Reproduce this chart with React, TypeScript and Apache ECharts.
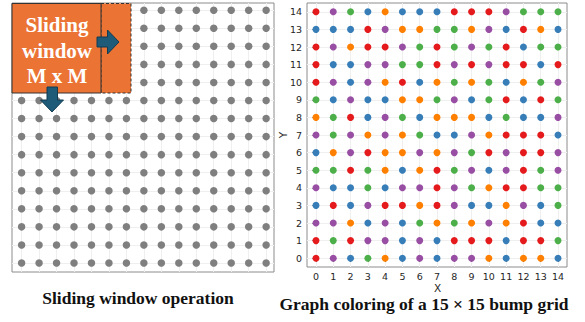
import React, { useEffect, useRef } from "react";
import * as echarts from "echarts";

// tick positions (both panels use a 15 x 15 lattice)
const tickValues = [0, 1, 2, 3, 4, 5, 6, 7, 8, 9, 10, 11, 12, 13, 14];

// colour code of each bump, rows listed from y = 14 (top) down to y = 0
// R red, B blue, G green, P purple, O orange
const colorRowsTopDown = [
  "RPGBOBBBRRRPGGG", // 14
  "BBBRPOOGGOPBROB", // 13
  "RPORRPGRGPGRBGG", // 12
  "RBBPPGGRPRPRRBR", // 11
  "RPBPORBOGOGBOGP", // 10
  "GBPBBOOGPBGRBRG", // 9
  "OGRBPGBOOOBGBBP", // 8
  "PGPOPOGBBPORRRB", // 7
  "BOPROOPOPGRPRRP", // 6
  "GGRGOBORGPBPRGP", // 5
  "PBBGBPPRPGORRGG", // 4
  "BRBPRRORPBBOPBG", // 3
  "PPOBPBGOGOPORBB", // 2
  "RGRPPBPBRRRBRRG", // 1
  "RPBGOBPBPPOBOOB", // 0
];

const colorCodes = ["R", "B", "G", "P", "O"];
const colorValues = ["#e41a1c", "#377eb8", "#4daf4a", "#984ea3", "#ff7f00"];

const leftCaption = "Sliding window operation";
const rightCaption = "Graph coloring of a 15 \u00d7 15 bump grid";
const windowLines = ["Sliding", "window", "M x M"];

export default function App() {
  const ref = useRef<HTMLDivElement>(null);

  useEffect(() => {
    document.body.style.margin = "0";
    if (!ref.current) return;
    const chart = echarts.init(ref.current, null, { renderer: "svg" });

    const grayPoints: number[][] = [];
    for (const x of tickValues) for (const y of tickValues) grayPoints.push([x, y]);

    const colorSeries = colorCodes.map((code, ci) => {
      const data: number[][] = [];
      colorRowsTopDown.forEach((row, ri) => {
        const y = tickValues[tickValues.length - 1 - ri];
        row.split("").forEach((c, xi) => {
          if (c === code) data.push([tickValues[xi], y]);
        });
      });
      return {
        type: "scatter",
        xAxisIndex: 1,
        yAxisIndex: 1,
        symbolSize: 7,
        silent: true,
        itemStyle: { color: colorValues[ci], opacity: 1 },
        data,
      };
    });

    const splitLine = { show: true, lineStyle: { color: "#efefef", width: 1 } };
    const axisFont = { fontFamily: "DejaVu Sans", fontSize: 9.5, color: "#262626" };

    const orange = "#eb7333";
    const arrowFill = "#1d5b79";
    const arrowStroke = "#123c52";

    chart.setOption({
      animation: false,
      backgroundColor: "#ffffff",
      grid: [
        { left: 12, top: 3, width: 262, height: 269, show: true, borderColor: "#8c8c8c", borderWidth: 1, backgroundColor: "transparent" },
        { left: 307, top: 3, width: 260, height: 264, show: true, borderColor: "#8c8c8c", borderWidth: 1, backgroundColor: "transparent" },
      ],
      xAxis: [
        {
          type: "value", gridIndex: 0, min: -0.55, max: 14.45,
          axisLine: { show: false },
          axisTick: { show: true, length: 2, lineStyle: { color: "#8c8c8c" }, customValues: tickValues },
          axisLabel: { show: false, customValues: tickValues },
          splitLine,
        },
        {
          type: "value", gridIndex: 1, min: -0.52, max: 14.52,
          axisLine: { show: false },
          axisTick: { show: true, length: 3.5, lineStyle: { color: "#444" }, customValues: tickValues },
          axisLabel: { ...axisFont, margin: 4, customValues: tickValues },
          splitLine,
        },
      ],
      yAxis: [
        {
          type: "value", gridIndex: 0, min: -0.5, max: 14.4,
          axisLine: { show: false },
          axisTick: { show: true, length: 2, lineStyle: { color: "#8c8c8c" }, customValues: tickValues },
          axisLabel: { show: false, customValues: tickValues },
          splitLine,
        },
        {
          type: "value", gridIndex: 1, min: -0.5, max: 14.5,
          axisLine: { show: false },
          axisTick: { show: true, length: 3.5, lineStyle: { color: "#444" }, customValues: tickValues },
          axisLabel: { ...axisFont, margin: 5, customValues: tickValues },
          splitLine,
        },
      ],
      series: [
        {
          type: "scatter",
          xAxisIndex: 0,
          yAxisIndex: 0,
          symbolSize: 7.5,
          silent: true,
          itemStyle: { color: "#7f7f7f", opacity: 1 },
          data: grayPoints,
        },
        ...colorSeries,
      ],
      graphic: [
        { type: "rect", z: 100, shape: { x: 101, y: 3.5, width: 30, height: 89.5 }, style: { fill: orange, stroke: "#333", lineWidth: 1, lineDash: [3, 2] } },
        { type: "rect", z: 101, shape: { x: 12, y: 3.5, width: 89, height: 89.5 }, style: { fill: orange, stroke: "#333", lineWidth: 1 } },
        ...windowLines.map((t, i) => ({
          type: "text", z: 102, x: 57, y: [25, 51, 76][i],
          style: { text: t, fill: "#ffffff", font: "bold 21px 'Liberation Serif'", align: "center", verticalAlign: "middle" },
        })),
        {
          type: "polygon", z: 103,
          shape: { points: [[97, 37], [107.5, 37], [107.5, 30], [119, 42], [107.5, 54], [107.5, 47], [97, 47]] },
          style: { fill: arrowFill, stroke: arrowStroke, lineWidth: 1 },
        },
        {
          type: "polygon", z: 103,
          shape: { points: [[47, 87], [57.5, 87], [57.5, 100], [63.5, 100], [52, 112], [40.5, 100], [47, 100]] },
          style: { fill: arrowFill, stroke: arrowStroke, lineWidth: 1 },
        },
        { type: "text", z: 100, x: 437.5, y: 288, style: { text: "X", fill: "#262626", font: "10.5px 'DejaVu Sans'", align: "center", verticalAlign: "middle" } },
        { type: "text", z: 100, x: 283, y: 135, rotation: Math.PI / 2, style: { text: "Y", fill: "#262626", font: "10.5px 'DejaVu Sans'", align: "center", verticalAlign: "middle" } },
        { type: "text", z: 100, x: 138, y: 298, style: { text: leftCaption, fill: "#111", font: "bold 17.5px 'Liberation Serif'", align: "center", verticalAlign: "middle" } },
        { type: "text", z: 100, x: 424, y: 304, style: { text: rightCaption, fill: "#111", font: "bold 17.5px 'Liberation Serif'", align: "center", verticalAlign: "middle" } },
      ],
    });

    return () => chart.dispose();
  }, []);

  return <div ref={ref} style={{ width: 585, height: 322 }} />;
}
